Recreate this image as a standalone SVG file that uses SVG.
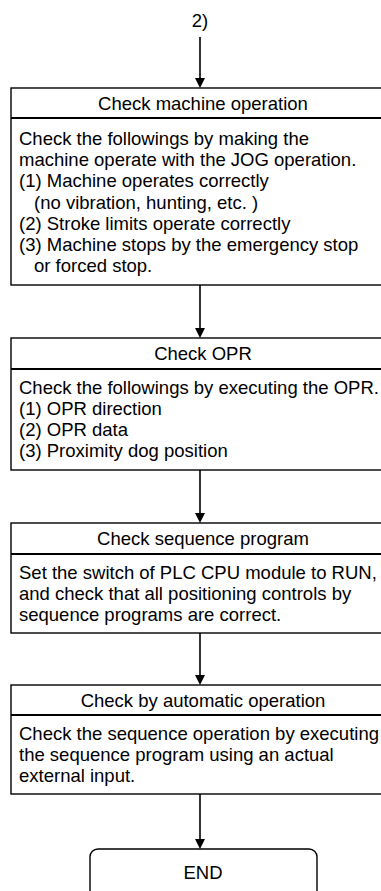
<svg xmlns="http://www.w3.org/2000/svg" width="381" height="891" viewBox="0 0 381 891">
<style>
text{font-family:"Liberation Sans",Arial,sans-serif;font-size:18.5px;fill:#000}
.h{text-anchor:middle}
.box{fill:#fff;stroke:#000;stroke-width:1.4}
.div{stroke:#000;stroke-width:2.2}
.c{stroke:#000;stroke-width:1.6;fill:none}
.ah{fill:#000}
</style>
<rect width="381" height="891" fill="#fff"/>
<text x="200" y="27" class="h">2)</text>
<g id="connectors">
<path class="c" d="M200,37 V79"/><path class="ah" d="M195,78 L205,78 L200,88 Z"/>
<path class="c" d="M200,285 V329"/><path class="ah" d="M195,328 L205,328 L200,338 Z"/>
<path class="c" d="M200,470 V514"/><path class="ah" d="M195,513 L205,513 L200,523 Z"/>
<path class="c" d="M200,633 V676"/><path class="ah" d="M195,675 L205,675 L200,685 Z"/>
<path class="c" d="M200,794 V840"/><path class="ah" d="M195,839 L205,839 L200,849 Z"/>
</g>
<g id="machine">
<rect class="box" x="11" y="88" width="384" height="197"/>
<line class="div" x1="11" y1="118" x2="395" y2="118"/>
<text x="203" y="110" class="h">Check machine operation</text>
<text x="19" y="145">Check the followings by making the</text>
<text x="19" y="166">machine operate with the JOG operation.</text>
<text x="19" y="187">(1) Machine operates correctly</text>
<text x="34" y="209">(no vibration, hunting, etc. )</text>
<text x="19" y="230">(2) Stroke limits operate correctly</text>
<text x="19" y="251">(3) Machine stops by the emergency stop</text>
<text x="34" y="272">or forced stop.</text>
</g>
<g id="opr">
<rect class="box" x="11" y="338" width="384" height="132"/>
<line class="div" x1="11" y1="369" x2="395" y2="369"/>
<text x="203" y="360" class="h">Check OPR</text>
<text x="19" y="394">Check the followings by executing the OPR.</text>
<text x="19" y="415">(1) OPR direction</text>
<text x="19" y="436">(2) OPR data</text>
<text x="19" y="457">(3) Proximity dog position</text>
</g>
<g id="sequence">
<rect class="box" x="11" y="523" width="384" height="110"/>
<line class="div" x1="11" y1="554" x2="395" y2="554"/>
<text x="203" y="545" class="h">Check sequence program</text>
<text x="19" y="579">Set the switch of PLC CPU module to RUN,</text>
<text x="19" y="600">and check that all positioning controls by</text>
<text x="19" y="621">sequence programs are correct.</text>
</g>
<g id="automatic">
<rect class="box" x="11" y="685" width="384" height="109"/>
<line class="div" x1="11" y1="715" x2="395" y2="715"/>
<text x="203" y="707" class="h">Check by automatic operation</text>
<text x="19" y="740">Check the sequence operation by executing</text>
<text x="19" y="761">the sequence program using an actual</text>
<text x="19" y="782">external input.</text>
</g>
<g id="end">
<rect class="box" x="90" y="849" width="227" height="60" rx="8"/>
<text x="203" y="879" class="h">END</text>
</g>
</svg>
